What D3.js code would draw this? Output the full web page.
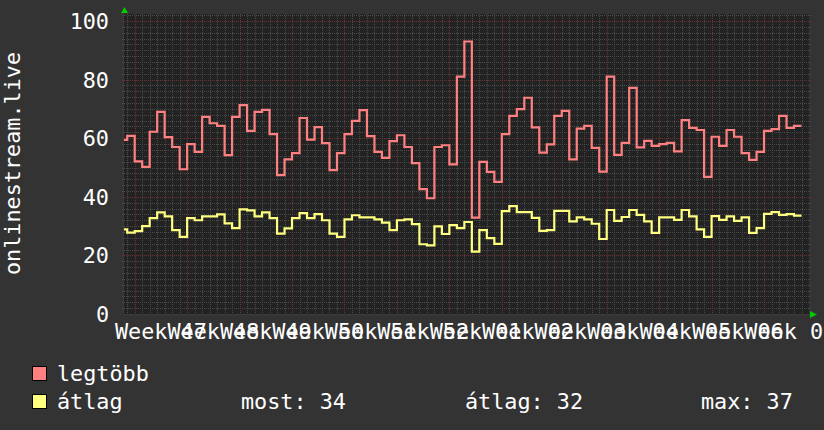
<!DOCTYPE html>
<html lang="hu">
<head>
<meta charset="UTF-8">
<title>onlinestream.live</title>
<script src="https://d3js.org/d3.v7.min.js"></script>
<style>
  body { margin: 0; background: #333333; }
  text { font-family: "DejaVu Sans Mono", monospace; font-size: 21.8px; fill: #ffffff; }
</style>
</head>
<body>
<div id="chart"></div>
<script>

const width = 824;
const height = 430;
const plot = { left: 124, right: 809, top: 14, bottom: 314 };

// time window of the graph
const start = new Date(Date.UTC(2023, 10, 18, 13, 43));
const end = new Date(Date.UTC(2024, 1, 18));

// one value per day, from Nov 18 to Feb 16
const days = d3.utcDay.range(new Date(Date.UTC(2023, 10, 18)), new Date(Date.UTC(2024, 1, 17)));

// legtöbb (daily maximum)
const maxValues = [
  59.4, 60.8, 52.1, 50.2, 62.2, 69.0, 60.4, 57.0, 49.4, 58.0,
  55.3, 67.3, 65.1, 64.2, 54.2, 67.3, 71.3, 62.5, 69.0, 69.7,
  61.4, 47.4, 52.8, 54.9, 66.9, 59.5, 63.8, 58.3, 49.1, 54.9,
  61.4, 65.9, 69.6, 60.7, 55.3, 53.3, 59.0, 61.0, 57.0, 51.5,
  42.6, 39.5, 57.0, 57.6, 51.1, 81.0, 93.0, 32.9, 51.9, 48.5,
  45.1, 61.4, 67.6, 69.9, 73.8, 63.7, 55.1, 57.9, 67.6, 69.3,
  52.8, 63.3, 64.2, 56.7, 48.6, 81.0, 54.3, 58.4, 77.2, 56.9,
  59.1, 57.4, 58.0, 58.4, 55.5, 66.2, 63.5, 62.8, 46.8, 60.5,
  57.4, 62.8, 60.5, 54.9, 52.6, 55.3, 62.5, 63.1, 67.6, 63.5,
  64.2
];

// átlag (daily average)
const avgValues = [
  28.9, 27.8, 28.3, 30.0, 32.7, 34.7, 33.3, 28.6, 26.3, 32.7,
  32.0, 33.3, 33.3, 34.0, 30.9, 29.3, 35.7, 35.4, 33.3, 34.7,
  32.7, 27.4, 29.2, 32.7, 34.4, 32.7, 34.1, 32.0, 27.4, 26.3,
  32.3, 33.7, 33.0, 33.0, 32.3, 31.2, 28.6, 32.0, 32.3, 30.7,
  23.8, 23.4, 29.9, 27.3, 30.3, 29.3, 31.4, 21.3, 28.6, 25.9,
  23.9, 35.1, 36.8, 34.8, 34.8, 32.8, 28.4, 28.6, 35.2, 35.2,
  31.6, 33.0, 32.3, 30.8, 25.6, 35.5, 31.8, 33.1, 35.5, 33.8,
  31.6, 27.7, 33.0, 33.0, 32.1, 35.5, 33.3, 28.9, 26.3, 33.4,
  32.1, 33.3, 31.8, 33.0, 27.7, 29.3, 34.2, 34.8, 33.8, 34.1,
  33.6
];

const yTicks = [0, 20, 40, 60, 80, 100];
const yTitle = "onlinestream.live";
const seriesNames = ["legtöbb", "átlag"];
const seriesColors = ["#ff8080", "#ffff80"];
const statLabels = ["most: 34", "átlag: 32", "max: 37"];

const svg = d3.select("#chart")
  .append("svg")
    .attr("width", width)
    .attr("height", height);

svg.append("rect")
  .attr("width", width)
  .attr("height", height)
  .attr("fill", "#333333");

svg.append("rect")
  .attr("x", plot.left)
  .attr("y", plot.top)
  .attr("width", plot.right - plot.left)
  .attr("height", plot.bottom - plot.top)
  .attr("fill", "#222222");

const x = d3.scaleUtc().domain([start, end]).range([plot.left, plot.right]);
const y = d3.scaleLinear().domain([0, 100]).range([plot.bottom, 21]);

const px = v => Math.round(v) + 0.5;
const grid = svg.append("g").attr("shape-rendering", "crispEdges");

// horizontal grid, minor every 2, major every 20
d3.range(2, 103, 2).forEach(v => {
  const major = v % 20 === 0;
  const yy = px(y(v));
  grid.append("line")
    .attr("x1", plot.left - 2).attr("x2", plot.right + 2)
    .attr("y1", yy).attr("y2", yy)
    .attr("stroke", major ? "#6e3232" : "#4a4a4a")
    .attr("stroke-dasharray", "1,1");
});

// vertical grid, minor daily, major weekly
const mondays = d3.utcMonday.range(start, end);
d3.utcDay.range(start, end).forEach(d => {
  const major = d.getUTCDay() === 1;
  const xx = px(x(d));
  grid.append("line")
    .attr("x1", xx).attr("x2", xx)
    .attr("y1", plot.top).attr("y2", plot.bottom + 2)
    .attr("stroke", major ? "#6e3232" : "#4a4a4a")
    .attr("stroke-dasharray", "1,1");
});

// axes
grid.append("line")
  .attr("x1", plot.left).attr("x2", plot.right + 2)
  .attr("y1", plot.bottom + 0.5).attr("y2", plot.bottom + 0.5)
  .attr("stroke", "#3c3c3c");
grid.append("line")
  .attr("x1", plot.left - 0.5).attr("x2", plot.left - 0.5)
  .attr("y1", plot.top - 2).attr("y2", plot.bottom)
  .attr("stroke", "#3c3c3c");

// arrows
svg.append("path")
  .attr("d", `M${plot.left - 3},13 L${plot.left + 4},13 L${plot.left + 0.5},7 Z`)
  .attr("fill", "#00cc00");
svg.append("path")
  .attr("d", `M${plot.right + 1},${plot.bottom - 3} L${plot.right + 1},${plot.bottom + 4} L${plot.right + 8},${plot.bottom + 0.5} Z`)
  .attr("fill", "#00cc00");

// y tick labels
svg.selectAll(".ylab")
  .data(yTicks)
  .enter()
  .append("text")
    .attr("class", "ylab")
    .attr("x", 109)
    .attr("y", d => y(d) + 8)
    .attr("text-anchor", "end")
    .text(d => d);

// x labels, centred in the middle of each week
mondays.concat([d3.utcMonday.floor(start)]).forEach(m => {
  const mid = d3.utcHour.offset(m, 84);
  if (mid < start || mid > end) return;
  svg.append("text")
    .attr("x", x(mid))
    .attr("y", 338.5)
    .attr("text-anchor", "middle")
    .text("Week " + d3.utcFormat("%V")(m));
});

// y title
svg.append("text")
  .attr("transform", "translate(19.5,163.5) rotate(-90)")
  .attr("text-anchor", "middle")
  .text(yTitle);

// lines
svg.append("clipPath").attr("id", "clip")
  .append("rect")
    .attr("x", plot.left).attr("y", plot.top)
    .attr("width", plot.right - plot.left).attr("height", plot.bottom - plot.top);

const stepDates = days.concat([d3.utcDay.offset(days[days.length - 1], 1)]);
const line = d3.line()
  .x(d => x(d[0]))
  .y(d => y(d[1]))
  .curve(d3.curveStepAfter);

[maxValues, avgValues].forEach((vals, i) => {
  const pts = stepDates.map((d, j) => [d, vals[Math.min(j, vals.length - 1)]]);
  svg.append("path")
    .attr("clip-path", "url(#clip)")
    .attr("d", line(pts))
    .attr("fill", "none")
    .attr("stroke", seriesColors[i])
    .attr("stroke-width", 2.2);
});

// legend
const legendY = [380.5, 408.5];
seriesNames.forEach((name, i) => {
  svg.append("rect")
    .attr("x", 32.5).attr("y", legendY[i] - 14)
    .attr("width", 14).attr("height", 14)
    .attr("fill", seriesColors[i])
    .attr("stroke", "#000000");
  svg.append("text")
    .attr("x", 57)
    .attr("y", legendY[i])
    .text(name);
});
const statX = [241, 465, 701];
statLabels.forEach((s, i) => {
  svg.append("text")
    .attr("x", statX[i])
    .attr("y", legendY[1])
    .text(s);
});

</script>
</body>
</html>
